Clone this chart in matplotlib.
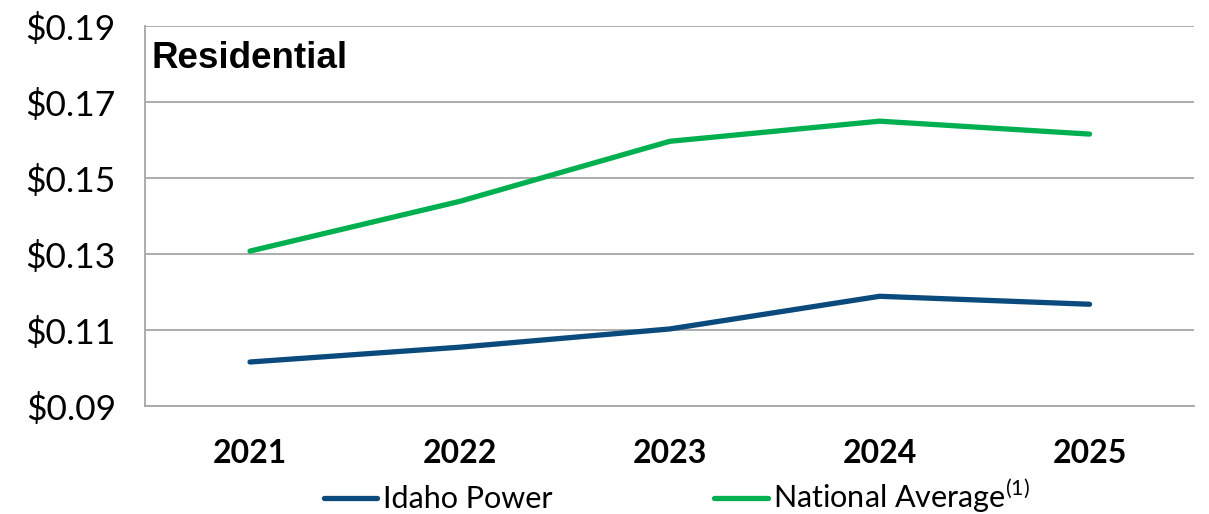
import matplotlib.pyplot as plt
import matplotlib as mpl

mpl.rcParams['font.family'] = ['Lato', 'DejaVu Sans']
mpl.rcParams['mathtext.fontset'] = 'custom'
mpl.rcParams['mathtext.rm'] = 'Lato'

# data
years = ['2021', '2022', '2023', '2024', '2025']
idaho_power = [0.1016, 0.1055, 0.1103, 0.1189, 0.1168]
national_avg = [0.1308, 0.1439, 0.1597, 0.1650, 0.1616]
y_ticks = [0.09, 0.11, 0.13, 0.15, 0.17, 0.19]

fig = plt.figure(figsize=(12.09, 5.14), dpi=100)
ax = fig.add_axes([0.12, 0.21, 0.868, 0.739])

x = range(len(years))
ax.plot(x, idaho_power, color='#0A4A7C', linewidth=3.8, solid_capstyle='round',
        label='Idaho Power')
ax.plot(x, national_avg, color='#00B050', linewidth=3.8, solid_capstyle='round',
        label='National Average$^{\\mathregular{(1)}}$')

ax.set_xlim(-0.5, len(years) - 0.5)
ax.set_ylim(0.09, 0.19)
ax.set_yticks(y_ticks)
ax.set_yticklabels(['\\${:.2f}'.format(v) for v in y_ticks], fontsize=25.5)
ax.set_xticks(list(x))
ax.set_xticklabels(years, fontsize=23, fontweight='bold')
ax.tick_params(axis='both', length=0)
ax.tick_params(axis='y', pad=21)
ax.tick_params(axis='x', pad=24)

ax.grid(axis='y', color='#A6A6A6', linewidth=1.3)
for side in ['top', 'right']:
    ax.spines[side].set_visible(False)
ax.spines['left'].set_color('#A6A6A6')
ax.spines['left'].set_linewidth(1.3)
ax.spines['bottom'].set_color('#A6A6A6')
ax.spines['bottom'].set_linewidth(1.3)

ax.text(0.006, 0.915, 'Residential', transform=ax.transAxes, fontsize=26.5,
        fontweight='bold', family='Liberation Sans', va='center', ha='left')

fig.legend(loc='center', bbox_to_anchor=(0.56, 0.035), ncol=2, frameon=False,
           fontsize=22, handlelength=1.75, handletextpad=0.18, columnspacing=5.3)

plt.savefig('out.png', dpi=100)
